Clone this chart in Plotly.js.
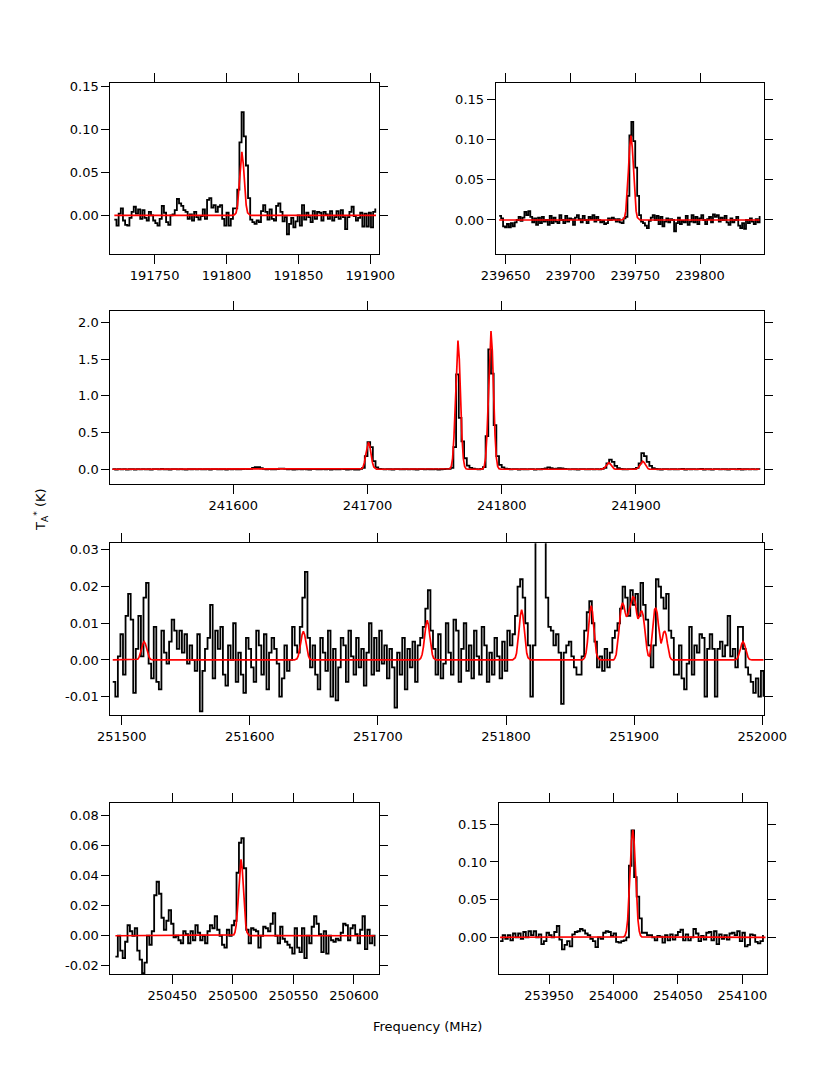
<!DOCTYPE html>
<html>
<head>
<meta charset="utf-8">
<script src="https://cdn.plot.ly/plotly-3.0.1.min.js"></script>
<style>html,body{margin:0;padding:0;background:#fff;}#chart{width:830px;height:1075px;}</style>
</head>
<body>
<div id="chart"></div>
<script>
// ---------- Panel 1 (191.8 GHz) ----------
const p1Start = 191722, p1Step = 1.5;
const p1Values = [
 -0.005,-0.012,0.002,0.008,-0.006,-0.011,-0.012,-0.003,0.004,0.010,
 0.002,0.007,-0.004,0.006,-0.003,-0.006,0.004,0.000,-0.006,-0.009,
 -0.012,-0.004,0.011,0.003,-0.008,-0.011,0.000,0.001,0.006,0.019,
 0.014,0.011,0.006,0.004,-0.004,0.001,-0.006,0.004,-0.002,-0.005,
 -0.001,0.007,-0.004,0.018,0.020,0.009,0.012,0.004,0.010,0.012,
 -0.004,-0.012,0.003,-0.012,-0.004,0.008,0.008,0.030,0.085,0.120,
 0.092,0.058,0.020,-0.005,-0.008,-0.010,-0.006,-0.008,0.005,0.012,
 0.004,-0.005,0.007,-0.004,-0.006,0.011,0.014,0.004,-0.007,-0.002,
 -0.022,-0.010,-0.003,-0.014,-0.007,0.000,-0.012,0.012,-0.005,0.003,
 -0.002,-0.008,0.005,-0.004,0.004,0.003,-0.006,0.004,0.001,-0.004,
 0.005,-0.006,-0.002,0.005,-0.004,0.006,-0.002,-0.016,-0.002,0.004,
 0.010,-0.001,-0.006,-0.003,0.003,-0.013,0.002,-0.013,0.003,-0.014,
 0.004,0.008];
const p1ModelX = [191722,191804.7,191805.7,191806.7,191807.7,191808.7,191809.7,191810.7,191811.7,191812.7,191813.7,191814.7,191815.7,191816.7,191904];
const p1ModelY = [0,0,0.001,0.003,0.012,0.033,0.060,0.074,0.060,0.033,0.012,0.003,0.001,0,0];
const p1XTicks = [191750,191800,191850,191900];
const p1YTicks = [0,0.05,0.10,0.15];
const p1YTickText = ['0.00','0.05','0.10','0.15'];

// ---------- Panel 2 (239.7 GHz) ----------
const p2Start = 239645, p2Step = 1.5;
const p2Values = [
 0.005,0.002,-0.008,-0.009,-0.005,-0.009,-0.004,-0.008,-0.003,0.000,
 0.004,-0.001,0.003,0.010,0.006,0.011,0.004,-0.003,0.002,-0.006,
 0.003,-0.004,0.004,-0.002,0.000,-0.006,0.005,-0.004,0.003,-0.002,
 -0.004,0.006,0.000,-0.004,0.005,-0.002,0.002,0.001,-0.006,0.003,
 0.006,0.001,-0.003,0.005,0.000,-0.004,0.004,0.001,0.006,-0.002,
 0.004,0.000,-0.003,-0.001,-0.005,-0.004,0.002,0.000,0.003,0.001,
 -0.002,0.001,-0.003,-0.004,0.002,0.004,0.030,0.105,0.122,0.098,
 0.065,0.030,0.006,-0.002,-0.004,-0.007,-0.010,-0.001,0.003,0.006,
 0.000,0.005,-0.005,0.004,-0.008,-0.002,0.002,-0.003,0.001,0.000,
 -0.014,-0.004,0.003,-0.005,-0.001,-0.003,0.005,-0.006,-0.002,0.006,
 -0.003,0.004,-0.005,0.002,0.006,0.000,-0.005,0.001,0.004,-0.003,
 0.007,0.004,0.006,-0.002,0.003,0.000,0.005,-0.003,-0.006,0.002,
 -0.003,0.000,0.004,-0.007,-0.010,-0.004,-0.011,0.000,-0.004,0.002,
 -0.002,-0.005,0.001,-0.003,0.005];
const p2ModelX = [239645,239739.7,239740.7,239741.7,239742.7,239743.7,239744.7,239745.7,239746.7,239747.7,239748.7,239749.7,239750.7,239751.7,239752.7,239753.7,239846];
const p2ModelY = [0,0,0.001,0.003,0.011,0.030,0.060,0.091,0.105,0.091,0.060,0.030,0.011,0.003,0.001,0,0];
const p2XTicks = [239650,239700,239750,239800];
const p2YTicks = [0,0.05,0.10,0.15];
const p2YTickText = ['0.00','0.05','0.10','0.15'];

// ---------- Panel 3 (241.7 GHz) ----------
const p3Start = 241510, p3Step = 2;
const p3Values = [
 0.002,-0.003,0.001,-0.002,0.003,-0.004,0.000,0.002,-0.003,0.001,
 -0.001,0.003,-0.002,0.000,-0.004,0.002,0.001,-0.002,0.004,-0.001,
 0.000,-0.003,0.002,0.001,-0.002,0.003,-0.001,-0.004,0.002,0.000,
 0.001,-0.002,0.003,-0.001,0.000,0.002,-0.003,0.001,0.003,-0.002,
 0.000,0.002,-0.004,0.001,-0.001,0.003,0.000,-0.002,0.002,0.004,
 0.003,0.006,0.018,0.030,0.028,0.014,0.004,-0.002,0.001,0.000,
 -0.002,0.003,0.008,0.010,0.004,-0.001,0.002,-0.003,0.000,0.001,
 -0.002,0.002,0.000,-0.003,0.001,0.003,-0.002,0.000,0.002,-0.001,
 0.001,-0.003,0.002,0.000,-0.002,0.004,0.001,-0.004,0.000,0.002,
 -0.003,-0.006,0.004,0.020,0.180,0.370,0.300,0.110,0.025,0.004,
 0.001,-0.002,0.002,0.000,-0.003,0.001,0.002,-0.001,0.000,0.003,
 -0.002,0.001,0.000,-0.003,0.002,0.001,-0.002,0.003,0.000,-0.001,
 0.002,-0.004,0.000,0.003,0.005,0.004,0.020,0.300,1.290,0.700,
 0.380,0.150,0.050,0.020,0.008,0.003,-0.002,0.004,0.030,0.450,
 1.630,1.300,0.600,0.180,0.060,0.025,0.010,0.004,-0.002,0.003,
 0.001,-0.003,0.002,0.000,-0.002,0.003,0.001,-0.004,0.002,0.000,
 0.004,0.012,0.025,0.015,0.006,0.010,0.015,0.012,0.005,0.001,
 -0.002,0.002,0.000,-0.003,0.001,0.002,-0.002,0.000,0.003,-0.001,
 0.002,-0.002,0.004,0.020,0.080,0.130,0.100,0.045,0.015,0.004,
 0.000,-0.002,0.002,0.003,0.006,0.020,0.080,0.220,0.180,0.100,
 0.045,0.015,0.005,0.000,-0.003,0.002,0.001,-0.002,0.003,0.000,
 -0.002,0.002,0.004,-0.003,0.001,0.000,0.003,-0.002,0.001,0.004,
 -0.003,0.002,0.000,-0.004,0.003,0.001,-0.002,0.002,0.000,-0.003,
 0.003,0.001,-0.002,0.004,-0.003,0.000,0.002,-0.001,0.003,-0.002,
 0.001,-0.002];
const p3ModelX = [241510,
 241693.2,241694.7,241695.7,241696.7,241697.7,241698.7,241699.7,241700.7,241701.7,241702.7,241703.7,241704.7,241705.7,241706.7,241708.2,
 241759.9,241761.4,241762.4,241763.4,241764.4,241765.4,241766.4,241767.4,241768.4,241769.4,241770.4,241771.4,241772.4,241773.4,241774.9,
 241784.5,241786,241787,241788,241789,241790,241791,241792,241793,241794,241795,241796,241797,241798,241799.5,
 241873.7,241874.7,241875.7,241876.7,241877.7,241878.7,241879.7,241880.7,241881.7,241882.7,241883.7,241884.7,241885.7,
 241899,241900,241901,241902,241903,241904,241905,241906,241907,241908,241909,241910,241911,
 241992];
const p3ModelY = [0,
 0,0.001,0.008,0.031,0.092,0.199,0.317,0.370,0.317,0.199,0.092,0.031,0.008,0.001,0,
 0,0.007,0.037,0.149,0.436,0.943,1.500,1.750,1.500,0.943,0.436,0.149,0.037,0.007,0,
 0,0.008,0.039,0.160,0.468,1.013,1.611,1.880,1.611,1.013,0.468,0.160,0.039,0.008,0,
 0,0.002,0.008,0.022,0.049,0.077,0.090,0.077,0.049,0.022,0.008,0.002,0,
 0,0.002,0.009,0.027,0.059,0.094,0.110,0.094,0.059,0.027,0.009,0.002,0,
 0];
const p3XTicks = [241600,241700,241800,241900];
const p3YTicks = [0,0.5,1.0,1.5,2.0];
const p3YTickText = ['0.0','0.5','1.0','1.5','2.0'];

// ---------- Panel 4 (251.5-252.0 GHz) ----------
const p4Start = 251493, p4Step = 2;
const p4Values = [
 -0.006,-0.010,0.001,0.007,-0.004,0.012,0.018,0.011,-0.009,0.003,
 0.012,0.001,0.017,0.021,-0.001,-0.005,0.009,-0.006,-0.008,0.008,
 0.002,-0.001,0.005,0.011,0.008,0.003,0.008,0.002,0.007,-0.001,
 0.004,0.000,-0.003,0.007,-0.014,-0.003,0.003,0.006,0.015,-0.005,
 0.008,0.003,0.009,-0.004,-0.007,0.004,0.000,0.010,-0.006,0.002,
 -0.004,-0.009,0.006,0.003,-0.002,-0.006,0.008,0.004,-0.004,0.007,
 -0.008,0.002,0.006,0.003,-0.001,-0.010,-0.005,0.004,-0.003,0.000,
 0.009,0.004,0.002,0.009,0.017,0.024,0.006,-0.002,0.004,-0.004,
 -0.008,0.006,0.002,-0.003,0.008,-0.010,0.003,-0.011,-0.002,0.006,
 0.004,-0.006,0.008,0.001,-0.004,0.006,-0.002,0.003,-0.007,0.002,
 0.010,-0.004,0.006,-0.003,0.008,-0.001,0.004,-0.005,0.003,-0.002,
 -0.013,0.002,-0.004,0.006,-0.008,0.003,-0.002,0.005,-0.006,0.004,
 0.006,0.009,0.014,0.019,0.008,0.003,-0.004,0.007,-0.005,-0.001,
 0.010,0.002,-0.004,0.011,0.008,-0.006,0.003,0.010,-0.003,0.004,
 -0.005,0.008,0.001,-0.004,0.009,0.004,-0.006,0.002,-0.004,0.006,
 0.001,-0.005,0.005,-0.003,0.008,0.004,0.007,0.012,0.020,0.022,
 0.017,0.010,0.004,-0.010,0.004,0.060,0.090,0.100,0.050,0.017,
 0.009,0.008,0.004,0.007,0.002,-0.012,0.002,0.004,0.005,0.001,
 -0.002,-0.004,-0.004,0.001,0.008,0.013,0.016,0.010,0.005,-0.002,
 0.001,-0.003,0.003,-0.002,0.002,0.006,0.008,0.010,0.014,0.020,
 0.017,0.012,0.019,0.015,0.018,0.012,0.021,0.015,0.011,0.004,
 -0.002,0.004,0.022,0.020,0.017,0.014,0.018,0.008,0.006,-0.004,
 -0.004,0.004,-0.005,-0.008,-0.001,0.009,-0.004,0.004,0.002,0.007,
 0.006,-0.010,0.003,0.007,0.003,-0.010,0.003,0.005,0.001,0.004,
 0.012,0.001,0.003,-0.002,0.009,0.009,0.003,-0.002,-0.004,-0.006,
 -0.009,-0.005,-0.010,-0.003,-0.010];
const p4ModelX = [251493,
 251510.5,251511.5,251512.5,251513.5,251514.5,251515.5,251516.5,251517.5,251518.5,251519.5,251520.5,251521.5,251522.5,251523.5,251524.5,
 251634.8,251635.8,251636.8,251637.8,251638.8,251639.8,251640.8,251641.8,251642.8,251643.8,251644.8,251645.8,251646.8,251647.8,251648.8,
 251731.5,251732.5,251733.5,251734.5,251735.5,251736.5,251737.5,251738.5,251739.5,251740.5,251741.5,251742.5,251743.5,251744.5,251745.5,
 251805.2,251806.2,251807.2,251808.2,251809.2,251810.2,251811.2,251812.2,251813.2,251814.2,251815.2,251816.2,251817.2,251818.2,251819.2,
 251859.5,251860.5,251861.5,251862.5,251863.5,251864.5,251865.5,251866.5,251867.5,251868.5,251869.5,251870.5,251871.5,251872.5,251873.5,
 251884,251885,251886,251887,251888,251889,251890,251891,251892,251893,251894,251895,251896,251897,251898,251899,251900,251901,251902,251903,
 251904,251905,251906,251907,251908,251909,251910,251911,251912,251913,251914,251915,251916,251917,251918,251919,251920,251921,251922,251923,
 251924,251925,251926,251927,251928,251929,251930,
 251978,251979,251980,251981,251982,251983,251984,251985,251986,251987,251988,251989,251990,251991,251992,
 252001];
const p4ModelY = [0,
 0,0.0001,0.0002,0.0007,0.0016,0.0030,0.0044,0.0050,0.0044,0.0030,0.0016,0.0007,0.0002,0.0001,0,
 0,0.0001,0.0003,0.0011,0.0025,0.0047,0.0069,0.0078,0.0069,0.0047,0.0025,0.0011,0.0003,0.0001,0,
 0,0.0001,0.0005,0.0015,0.0035,0.0066,0.0095,0.0108,0.0095,0.0066,0.0035,0.0015,0.0005,0.0001,0,
 0,0.0002,0.0006,0.0018,0.0045,0.0083,0.0121,0.0137,0.0121,0.0083,0.0045,0.0018,0.0006,0.0002,0,
 0,0.0002,0.0007,0.0020,0.0048,0.0090,0.0131,0.0148,0.0131,0.0090,0.0048,0.0020,0.0007,0.0002,0,
 0,0.0005,0.0015,0.0040,0.0075,0.0115,0.0145,0.0156,0.0148,0.0130,0.0118,0.0122,0.0135,0.0152,0.0166,0.0172,0.0170,0.0155,0.0128,0.0112,
 0.0118,0.0130,0.0134,0.0122,0.0095,0.0060,0.0030,0.0012,0.0010,0.0030,0.0070,0.0115,0.0138,0.0142,0.0128,0.0095,0.0060,0.0045,0.0058,0.0075,
 0.0079,0.0068,0.0045,0.0022,0.0008,0.0002,0,
 0,0.0001,0.0002,0.0007,0.0016,0.0030,0.0044,0.0050,0.0044,0.0030,0.0016,0.0007,0.0002,0.0001,0,
 0];
const p4XTicks = [251500,251600,251700,251800,251900,252000];
const p4YTicks = [-0.01,0,0.01,0.02,0.03];
const p4YTickText = ['-0.01','0.00','0.01','0.02','0.03'];

// ---------- Panel 5 (250.5 GHz) ----------
const p5Start = 250403, p5Step = 2;
const p5Values = [
 -0.014,0.000,-0.010,-0.015,-0.004,0.007,0.003,0.000,0.005,-0.010,
 -0.016,-0.025,-0.018,0.000,-0.006,0.003,0.027,0.036,0.028,0.012,
 0.004,0.010,0.017,0.008,-0.001,0.000,-0.003,-0.005,0.003,0.001,
 -0.005,0.003,-0.003,0.007,0.002,-0.003,0.000,-0.005,0.003,0.007,
 0.005,0.013,0.004,0.000,-0.006,-0.008,0.004,0.000,0.007,0.010,
 0.042,0.062,0.065,0.045,0.004,-0.005,0.005,0.004,0.003,-0.008,
 0.000,0.006,0.005,0.003,0.008,0.015,0.000,-0.005,0.006,-0.002,
 -0.004,-0.006,-0.008,-0.012,0.005,-0.008,-0.011,0.005,-0.015,0.000,
 -0.005,0.006,0.013,0.008,0.001,-0.011,0.003,-0.012,0.000,-0.003,
 -0.004,-0.002,-0.003,0.002,0.008,0.007,-0.003,0.005,0.007,0.001,
 -0.005,0.004,0.013,-0.009,0.004,-0.005,0.000,-0.007];
const p5ModelX = [250403,250499.7,250500.7,250501.7,250502.7,250503.7,250504.7,250505.7,250506.7,250507.7,250508.7,250509.7,250510.7,250511.7,250512.7,250513.7,250617];
const p5ModelY = [0,0.0001,0.0006,0.0022,0.0069,0.0166,0.0310,0.0450,0.0510,0.0450,0.0310,0.0166,0.0069,0.0022,0.0006,0.0001,0];
const p5XTicks = [250450,250500,250550,250600];
const p5YTicks = [-0.02,0,0.02,0.04,0.06,0.08];
const p5YTickText = ['-0.02','0.00','0.02','0.04','0.06','0.08'];

// ---------- Panel 6 (254.0 GHz) ----------
const p6Start = 253912, p6Step = 2;
const p6Values = [
 -0.005,0.003,-0.002,0.003,-0.004,0.005,0.000,0.005,-0.002,0.007,
 0.000,0.008,0.003,0.008,0.000,0.004,-0.009,-0.005,0.006,0.003,
 0.000,0.007,0.015,-0.003,-0.016,-0.010,-0.005,-0.012,0.004,0.007,
 0.008,0.011,0.009,0.005,0.003,-0.002,-0.005,-0.013,0.000,-0.002,
 0.006,0.008,0.007,0.002,0.005,-0.006,-0.007,-0.005,-0.004,0.000,
 0.095,0.142,0.080,0.054,0.025,0.006,0.006,0.003,0.003,0.000,
 -0.004,0.002,0.001,-0.007,0.003,-0.004,0.004,-0.003,0.003,0.007,
 0.010,-0.004,0.004,-0.004,0.000,0.011,0.005,-0.005,0.002,-0.003,
 0.006,0.007,-0.004,0.008,-0.009,0.004,-0.002,0.003,-0.003,0.005,
 0.006,0.003,0.008,-0.005,0.006,-0.012,-0.010,0.004,0.003,-0.006,
 -0.008,-0.005,0.003];
const p6ModelX = [253912,254008,254009,254010,254011,254012,254013,254014,254015,254016,254017,254018,254019,254020,254021,254022,254118];
const p6ModelY = [0,0.0006,0.0024,0.0084,0.0232,0.0513,0.0906,0.1273,0.1425,0.1273,0.0906,0.0513,0.0232,0.0084,0.0024,0.0006,0];
const p6XTicks = [253950,254000,254050,254100];
const p6YTicks = [0,0.05,0.10,0.15];
const p6YTickText = ['0.00','0.05','0.10','0.15'];

// ---------- build ----------
function channels(start, step, n) { const a = []; for (let i = 0; i < n; i++) a.push(start + step * i); return a; }

const panels = [
  {start:p1Start, step:p1Step, vals:p1Values, mx:p1ModelX, my:p1ModelY, xt:p1XTicks, yt:p1YTicks, ytt:p1YTickText,
   xr:[191719.2,191906.3], yr:[-0.045,0.154], xd:[0.1329,0.4570], yd:[0.7637,0.9228]},
  {start:p2Start, step:p2Step, vals:p2Values, mx:p2ModelX, my:p2ModelY, xt:p2XTicks, yt:p2YTicks, ytt:p2YTickText,
   xr:[239642.3,239849.4], yr:[-0.0423,0.1707], xd:[0.5972,0.9205], yd:[0.7637,0.9231]},
  {start:p3Start, step:p3Step, vals:p3Values, mx:p3ModelX, my:p3ModelY, xt:p3XTicks, yt:p3YTicks, ytt:p3YTickText,
   xr:[241508.4,241995.6], yr:[-0.2,2.158], xd:[0.1329,0.9208], yd:[0.5498,0.7110]},
  {start:p4Start, step:p4Step, vals:p4Values, mx:p4ModelX, my:p4ModelY, xt:p4XTicks, yt:p4YTicks, ytt:p4YTickText,
   xr:[251491.1,252001.6], yr:[-0.015,0.0318], xd:[0.1329,0.9208], yd:[0.3349,0.4946]},
  {start:p5Start, step:p5Step, vals:p5Values, mx:p5ModelX, my:p5ModelY, xt:p5XTicks, yt:p5YTicks, ytt:p5YTickText,
   xr:[250398.8,250620.9], yr:[-0.0257,0.0887], xd:[0.1329,0.4570], yd:[0.0937,0.2533]},
  {start:p6Start, step:p6Step, vals:p6Values, mx:p6ModelX, my:p6ModelY, xt:p6XTicks, yt:p6YTicks, ytt:p6YTickText,
   xr:[253910.9,254119.4], yr:[-0.0491,0.1787], xd:[0.6008,0.9245], yd:[0.0937,0.2533]}
];

const tickFont = {family:'DejaVu Sans', size:13, color:'#000'};
const traces = [];
const layout = {
  width:830, height:1075, margin:{l:0,r:0,t:0,b:0},
  paper_bgcolor:'#fff', plot_bgcolor:'#fff', showlegend:false,
  annotations:[
    {text:'Frequency (MHz)', x:0.515, y:0.0449, xref:'paper', yref:'paper', showarrow:false,
     xanchor:'center', yanchor:'middle', font:{family:'DejaVu Sans', size:13, color:'#000'}},
    {text:'T<sub>A</sub><sup>*</sup> (K)', x:0.0494, y:0.5256, xref:'paper', yref:'paper', showarrow:false,
     textangle:-90, xanchor:'center', yanchor:'middle', font:{family:'DejaVu Sans', size:13, color:'#000'}}
  ]
};

panels.forEach((p, k) => {
  const n = k + 1;
  const xa = n === 1 ? 'x' : 'x' + n, ya = n === 1 ? 'y' : 'y' + n;
  traces.push({x:channels(p.start, p.step, p.vals.length), y:p.vals, xaxis:xa, yaxis:ya, type:'scatter', mode:'lines',
    line:{color:'#000', width:1.8, shape:'hv'}, hoverinfo:'skip'});
  traces.push({x:p.mx, y:p.my, xaxis:xa, yaxis:ya, type:'scatter', mode:'lines',
    line:{color:'#ff0000', width:1.7}, hoverinfo:'skip'});
  layout['xaxis' + (n === 1 ? '' : n)] = {
    domain:p.xd, range:p.xr, anchor:ya, showgrid:false, zeroline:false,
    showline:true, linecolor:'#000', linewidth:1, mirror:'ticks',
    ticks:'outside', ticklen:9, tickwidth:1, tickcolor:'#000',
    tickmode:'array', tickvals:p.xt, ticktext:p.xt.map(String), tickfont:tickFont
  };
  layout['yaxis' + (n === 1 ? '' : n)] = {
    domain:p.yd, range:p.yr, anchor:xa, showgrid:false, zeroline:false,
    showline:true, linecolor:'#000', linewidth:1, mirror:'ticks',
    ticks:'outside', ticklen:8, tickwidth:1, tickcolor:'#000',
    tickmode:'array', tickvals:p.yt, ticktext:p.ytt, tickfont:tickFont
  };
});

Plotly.newPlot('chart', traces, layout, {displayModeBar:false, staticPlot:true});
</script>
</body>
</html>
